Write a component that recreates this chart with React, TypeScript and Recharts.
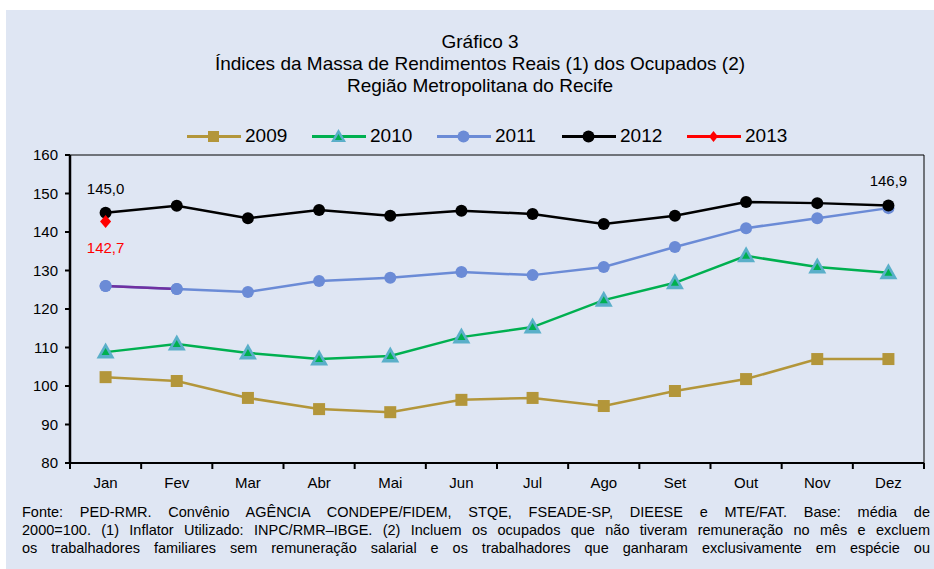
import React from 'react';
import { LineChart, Line, XAxis, YAxis, ReferenceLine } from 'recharts';

const months = ['Jan', 'Fev', 'Mar', 'Abr', 'Mai', 'Jun', 'Jul', 'Ago', 'Set', 'Out', 'Nov', 'Dez'];
const s2009 = [102.3, 101.3, 96.9, 94.0, 93.2, 96.4, 96.9, 94.8, 98.7, 101.8, 107.0, 107.0];
const s2010 = [108.8, 110.9, 108.6, 107.0, 107.8, 112.7, 115.3, 122.3, 126.8, 133.8, 130.9, 129.4];
const s2011 = [126.0, 125.2, 124.4, 127.3, 128.1, 129.6, 128.8, 130.9, 136.1, 141.0, 143.6, 146.2];
const s2012 = [145.0, 146.8, 143.6, 145.7, 144.2, 145.5, 144.7, 142.1, 144.2, 147.8, 147.5, 146.9];
const s2013 = [142.7];
// the Jan-Fev stretch of 2011 shows in purple in the original
const s2011Purple = [126.0, 125.2];
const yTicks = [80, 90, 100, 110, 120, 130, 140, 150, 160];
const seriesNames = ['2009', '2010', '2011', '2012', '2013'];

const FONT = '"Liberation Sans", Arial, sans-serif';
const BG = '#DFE6F3';
const C2009 = '#B3963A';
const C2010 = '#00B050';
const C2010_EDGE = '#5AAFC9';
const C2011 = '#6B8BD6';
const C2012 = '#000000';
const C2013 = '#FF0000';

const data = months.map((m, i) => ({
  x: i + 0.5,
  m,
  y2009: s2009[i],
  y2010: s2010[i],
  y2011: s2011[i],
  y2012: s2012[i],
  y2013: s2013[i] ?? null,
  y2011p: s2011Purple[i] ?? null,
}));

// edges of each month (tick marks) plus centers (labels)
const xTicks: number[] = [];
for (let i = 0; i <= months.length; i++) {
  xTicks.push(i);
  if (i < months.length) xTicks.push(i + 0.5);
}

const fmt = (v: number) => v.toFixed(1).replace('.', ',');

const SquareDot = (p: any) =>
  p.cy == null ? <g key={p.key} /> : <rect key={p.key} x={p.cx - 6} y={p.cy - 6} width={12} height={12} fill={C2009} />;

const TriDot = (p: any) => {
  if (p.cy == null) return <g key={p.key} />;
  const { cx, cy } = p;
  return (
    <g key={p.key}>
      <polygon points={`${cx},${cy - 9.5} ${cx + 9},${cy + 6.5} ${cx - 9},${cy + 6.5}`} fill={C2010_EDGE} />
      <polygon points={`${cx},${cy - 4} ${cx + 4},${cy + 3} ${cx - 4},${cy + 3}`} fill={C2010} />
    </g>
  );
};

const CircleDot = (color: string, r: number) => (p: any) =>
  p.cy == null ? <g key={p.key} /> : <circle key={p.key} cx={p.cx} cy={p.cy} r={r} fill={color} />;

const DiamondDot = (p: any) => {
  if (p.cy == null) return <g key={p.key} />;
  const { cx, cy } = p;
  return <polygon key={p.key} points={`${cx},${cy - 6.5} ${cx + 5.5},${cy} ${cx},${cy + 6.5} ${cx - 5.5},${cy}`} fill={C2013} />;
};

const XTick = (p: any) => {
  const v = p.payload.value;
  if (Number.isInteger(v)) {
    return <line x1={p.x} x2={p.x} y1={p.y} y2={p.y + 6} stroke="#000" strokeWidth={2} />;
  }
  return (
    <text x={p.x} y={p.y + 25} textAnchor="middle" fontSize={15} fontFamily={FONT} fill="#000">
      {months[v - 0.5]}
    </text>
  );
};

const label2012 = (p: any) => {
  if (p.index !== 0 && p.index !== months.length - 1) return <g key={p.index} />;
  return (
    <text key={p.index} x={p.x} y={p.y - 19} textAnchor="middle" fontSize={15} fontFamily={FONT} fill="#000">
      {fmt(p.value)}
    </text>
  );
};

const label2013 = (p: any) => {
  if (p.value == null) return <g key={p.index} />;
  return (
    <text key={p.index} x={p.x} y={p.y + 31} textAnchor="middle" fontSize={15} fontFamily={FONT} fill={C2013}>
      {fmt(p.value)}
    </text>
  );
};

const LegendIcon = ({ idx }: { idx: number }) => {
  const colors = [C2009, C2010, C2011, C2012, C2013];
  const c = colors[idx];
  let marker: React.ReactNode;
  if (idx === 0) marker = <rect x={21} y={4} width={11} height={11} fill={C2009} />;
  else if (idx === 1)
    marker = (
      <g>
        <polygon points="26.5,2 34,15 19,15" fill={C2010_EDGE} />
        <polygon points="26.5,7 30,13 23,13" fill={C2010} />
      </g>
    );
  else if (idx === 4) marker = <polygon points="26.5,4 31,9.5 26.5,15 22,9.5" fill={C2013} />;
  else marker = <circle cx={26.5} cy={9.5} r={6} fill={c} />;
  return (
    <svg width={54} height={19} style={{ display: 'block' }}>
      <line x1={0} x2={54} y1={9.5} y2={9.5} stroke={c} strokeWidth={3} />
      {marker}
    </svg>
  );
};

const footer = [
  'Fonte: PED-RMR. Convênio AGÊNCIA CONDEPE/FIDEM, STQE, FSEADE-SP, DIEESE e MTE/FAT. Base: média de',
  '2000=100. (1) Inflator Utilizado: INPC/RMR–IBGE. (2) Incluem os ocupados que não tiveram remuneração no mês e excluem',
  'os trabalhadores familiares sem remuneração salarial e os trabalhadores que ganharam exclusivamente em espécie ou',
];

export default function App() {
  return (
    <div style={{ position: 'absolute', left: 0, top: 0, width: 934, height: 569, background: '#fff', overflow: 'hidden', fontFamily: FONT }}>
      <div style={{ position: 'absolute', left: 6, top: 10, width: 928, height: 559, background: BG }} />
      <div style={{ position: 'absolute', left: 0, top: 31, width: 960, textAlign: 'center', fontSize: 19, lineHeight: '22px', color: '#000' }}>
        <div>Gráfico 3</div>
        <div>Índices da Massa de Rendimentos Reais (1) dos Ocupados (2)</div>
        <div>Região Metropolitana do Recife</div>
      </div>
      <div style={{ position: 'absolute', left: 187, top: 125, display: 'flex', alignItems: 'center' }}>
        {seriesNames.map((n, i) => (
          <div key={n} style={{ display: 'flex', alignItems: 'center', width: 125 }}>
            <LegendIcon idx={i} />
            <span style={{ fontSize: 19, marginLeft: 4, color: '#000' }}>{n}</span>
          </div>
        ))}
      </div>
      <div style={{ position: 'absolute', left: 0, top: 0 }}>
        <LineChart width={934} height={569} data={data} margin={{ top: 155, right: 10, bottom: 66, left: 0 }}>
          <XAxis
            type="number"
            dataKey="x"
            domain={[0, 12]}
            ticks={xTicks}
            interval={0}
            height={40}
            tickLine={false}
            tickSize={0}
            tickMargin={0}
            tick={XTick}
            axisLine={{ stroke: '#000', strokeWidth: 2 }}
          />
          <YAxis
            domain={[80, 160]}
            ticks={yTicks}
            width={70}
            interval={0}
            tickSize={5}
            tickMargin={7}
            tickLine={{ stroke: '#000', strokeWidth: 2 }}
            axisLine={{ stroke: '#000', strokeWidth: 2.5 }}
            tick={{ fontSize: 15, fontFamily: FONT, fill: '#000' }}
          />
          <ReferenceLine y={160} stroke="#000" strokeWidth={1} />
          <ReferenceLine x={12} stroke="#000" strokeWidth={1} />
          <Line dataKey="y2009" stroke={C2009} strokeWidth={2.5} dot={SquareDot} activeDot={false} isAnimationActive={false} />
          <Line dataKey="y2010" stroke={C2010} strokeWidth={2.5} dot={TriDot} activeDot={false} isAnimationActive={false} />
          <Line dataKey="y2011" stroke={C2011} strokeWidth={2.5} dot={CircleDot(C2011, 6)} activeDot={false} isAnimationActive={false} />
          <Line dataKey="y2011p" stroke="#7030A0" strokeWidth={2.5} dot={CircleDot(C2011, 6)} activeDot={false} legendType="none" isAnimationActive={false} />
          <Line dataKey="y2012" stroke={C2012} strokeWidth={2.5} dot={CircleDot(C2012, 6)} activeDot={false} label={label2012} isAnimationActive={false} />
          <Line dataKey="y2013" stroke={C2013} strokeWidth={2.5} dot={DiamondDot} activeDot={false} label={label2013} isAnimationActive={false} />
        </LineChart>
      </div>
      <div style={{ position: 'absolute', left: 22, top: 503, width: 908, fontSize: 14.5, lineHeight: '18px', color: '#000' }}>
        {footer.map((t, i) => (
          <div key={i} style={{ textAlign: 'justify', textAlignLast: 'justify', whiteSpace: 'nowrap' }}>{t}</div>
        ))}
      </div>
    </div>
  );
}
